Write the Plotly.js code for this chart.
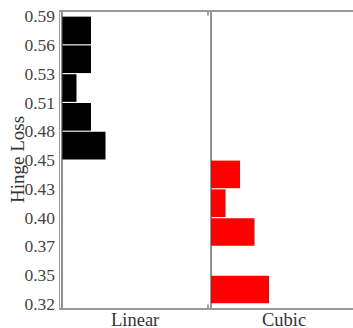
<!DOCTYPE html>
<html>
<head>
<meta charset="utf-8">
<script src="https://cdn.plot.ly/plotly-3.0.1.min.js"></script>
<style>html,body{margin:0;padding:0;background:#fff;}#chart{width:353px;height:328px;}</style>
</head>
<body>
<div id="chart"></div>
<script>
// Data
var categories = ['Linear', 'Cubic'];
var binEdges = [0.318, 0.345, 0.372, 0.399, 0.426, 0.453, 0.480, 0.507, 0.534, 0.561, 0.588];
var tickText = ['0.32', '0.35', '0.37', '0.40', '0.43', '0.45', '0.48', '0.51', '0.53', '0.56', '0.59'];
var linearCounts = [0, 0, 0, 0, 0, 3, 2, 1, 2, 2];
var cubicCounts  = [4, 0, 3, 1, 2, 0, 0, 0, 0, 0];
var colors = ['#000000', '#ff0000'];

// layout helpers
var basePos = [0, 10.28];
var labelOffset = 5;

var centers = [], widths = [];
for (var i = 0; i < binEdges.length - 1; i++) {
  centers.push((binEdges[i] + binEdges[i + 1]) / 2);
  widths.push((binEdges[i + 1] - binEdges[i]) * 0.96);
}
var allCounts = [linearCounts, cubicCounts];
var traces = categories.map(function (c, k) {
  return {
    type: 'bar', orientation: 'h', name: c,
    x: allCounts[k], y: centers, width: widths,
    base: basePos[k],
    marker: {color: colors[k], line: {width: 0}},
    showlegend: false, hoverinfo: 'none'
  };
});

var font = 'Liberation Serif, Times New Roman, serif';
var shapes = [];
basePos.forEach(function (b) {
  shapes.push({type: 'line', xref: 'x', yref: 'paper', x0: b, x1: b, y0: 0, y1: 1,
               line: {color: '#444', width: 1.2}});
});
[basePos[1] - 0.21].forEach(function (t) {
  shapes.push({type: 'line', xref: 'x', yref: 'paper', x0: t, x1: t, y0: 0, y1: 0.012,
               line: {color: '#444', width: 1}});
  shapes.push({type: 'line', xref: 'x', yref: 'paper', x0: t, x1: t, y0: 0.988, y1: 1,
               line: {color: '#444', width: 1}});
});

var annotations = categories.map(function (c, k) {
  return {
    text: c, xref: 'x', yref: 'paper',
    x: basePos[k] + labelOffset, y: -0.041, xanchor: 'center', yanchor: 'middle',
    showarrow: false, font: {family: font, size: 18.5, color: '#333'}
  };
});
annotations.push({
  text: 'Hinge Loss', xref: 'paper', yref: 'paper',
  x: -0.147, y: 0.503, xanchor: 'center', yanchor: 'middle',
  textangle: -90, showarrow: false,
  font: {family: font, size: 19, color: '#333'}
});

var layout = {
  width: 353, height: 328,
  margin: {l: 60, r: 0, t: 12, b: 20, pad: 0},
  paper_bgcolor: '#fff', plot_bgcolor: '#fff',
  font: {family: font, size: 17.5, color: '#444'},
  barmode: 'overlay',
  xaxis: {
    range: [-0.138, 20.07],
    showticklabels: false,
    ticks: '', showgrid: false, zeroline: false,
    showline: true, mirror: true, linecolor: '#999', linewidth: 2,
    fixedrange: true
  },
  yaxis: {
    range: [0.3142, 0.5918],
    tickvals: binEdges, ticktext: tickText,
    ticks: '', showgrid: false, zeroline: false,
    showline: true, linecolor: '#999', linewidth: 1.5,
    tickfont: {family: font, size: 17.5, color: '#444'},
    fixedrange: true
  },
  shapes: shapes,
  annotations: annotations
};

Plotly.newPlot('chart', traces, layout, {displayModeBar: false, staticPlot: true});
</script>
</body>
</html>
